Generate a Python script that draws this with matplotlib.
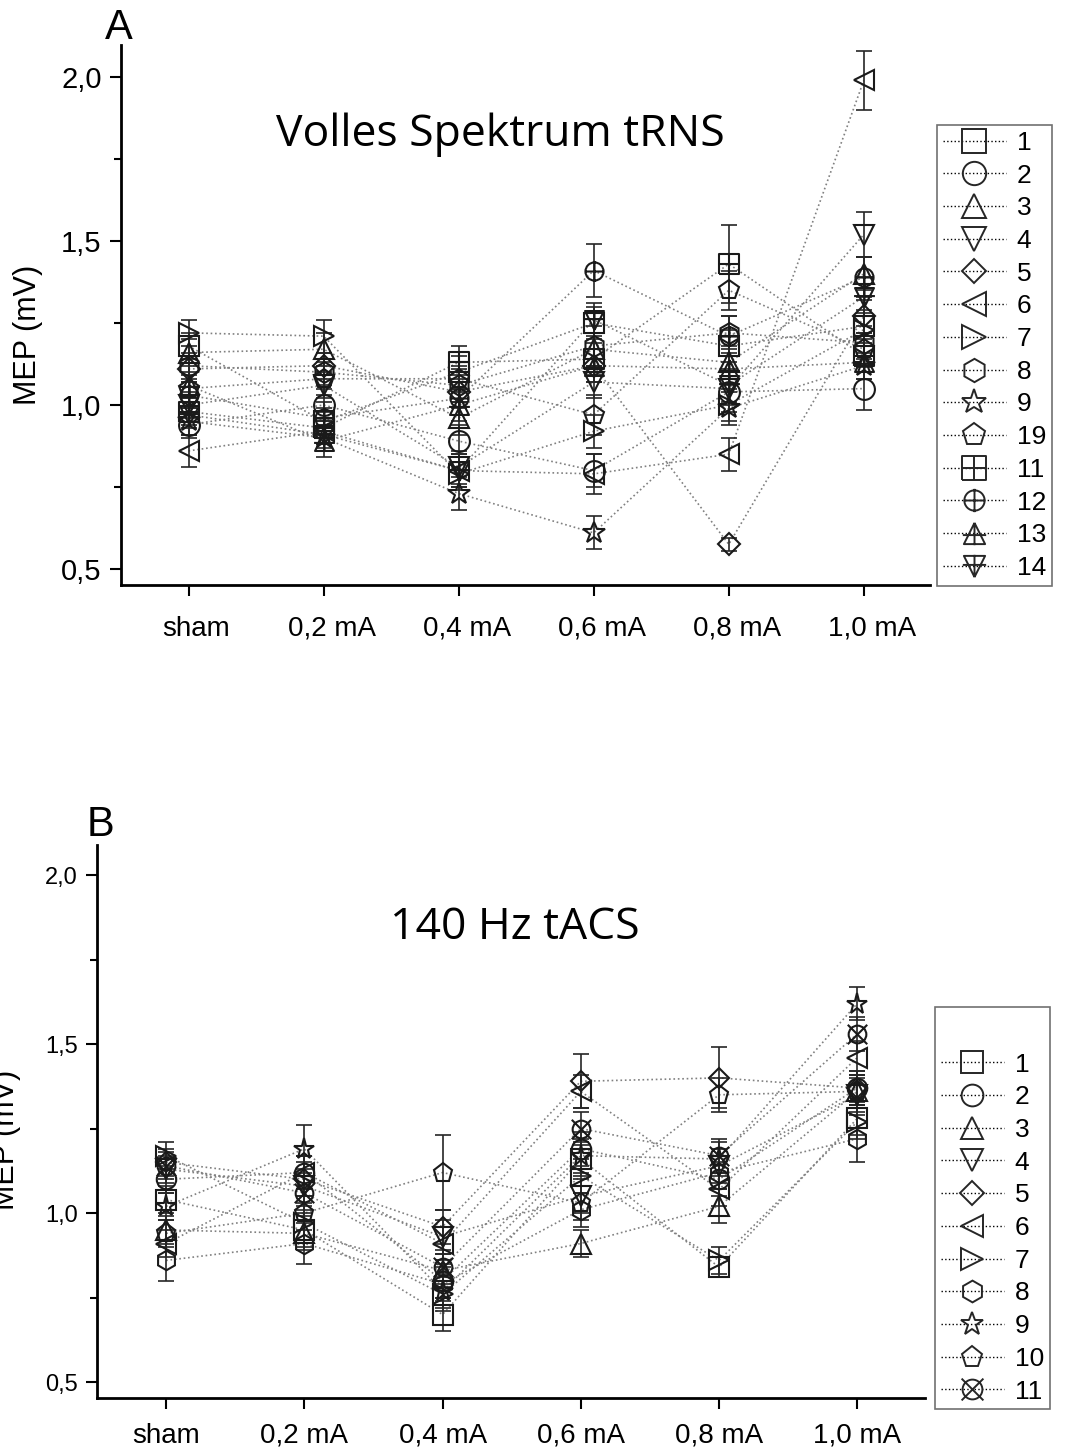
import numpy as np
import matplotlib
matplotlib.use('Agg')
import matplotlib.pyplot as plt
from matplotlib.path import Path
from matplotlib.lines import Line2D
from matplotlib.transforms import ScaledTranslation

plt.rcParams['font.family'] = ['Liberation Sans', 'DejaVu Sans']

conditions = ['sham', '0,2 mA', '0,4 mA', '0,6 mA', '0,8 mA', '1,0 mA']

# Panel A - Volles Spektrum tRNS (sham, 0.2, 0.4, 0.6, 0.8, 1.0 mA)
labels_a = ['1', '2', '3', '4', '5', '6', '7', '8', '9', '19', '11', '12', '13', '14']
mep_a = [
    [1.18, 0.95, 1.10, 1.25, 1.18, 1.24],
    [0.94, 1.00, 0.89, 0.80, 1.04, 1.05],
    [1.16, 1.17, 0.96, 1.17, 1.13, 1.40],
    [1.00, 1.06, 0.81, 1.07, 1.05, 1.52],
    [1.11, 1.12, 1.04, 1.12, 0.575, 1.27],
    [0.86, 0.92, 0.80, 0.79, 0.85, 1.99],
    [1.22, 1.21, 0.79, 0.92, 1.00, 1.23],
    [1.12, 1.10, 1.06, 1.18, 1.22, 1.19],
    [0.95, 0.90, 0.73, 0.61, 0.99, 1.12],
    [1.05, 1.08, 1.08, 0.97, 1.35, 1.17],
    [0.98, 0.93, 1.13, 1.14, 1.43, 1.15],
    [1.03, 0.96, 1.02, 1.41, 1.21, 1.39],
    [1.06, 0.89, 1.00, 1.12, 1.11, 1.13],
    [0.97, 0.91, 0.80, 1.26, 1.06, 1.33],
]
sem_a = [
    [0.04, 0.04, 0.05, 0.05, 0.05, 0.05],
    [0.04, 0.05, 0.05, 0.05, 0.06, 0.065],
    [0.04, 0.05, 0.05, 0.05, 0.05, 0.05],
    [0.04, 0.04, 0.05, 0.05, 0.05, 0.07],
    [0.04, 0.04, 0.05, 0.05, 0.02, 0.05],
    [0.05, 0.04, 0.05, 0.06, 0.05, 0.09],
    [0.04, 0.05, 0.05, 0.05, 0.05, 0.05],
    [0.04, 0.04, 0.05, 0.06, 0.05, 0.05],
    [0.04, 0.04, 0.05, 0.05, 0.05, 0.04],
    [0.04, 0.05, 0.04, 0.06, 0.06, 0.05],
    [0.04, 0.05, 0.05, 0.05, 0.12, 0.05],
    [0.04, 0.05, 0.05, 0.08, 0.06, 0.06],
    [0.04, 0.05, 0.05, 0.05, 0.05, 0.05],
    [0.04, 0.04, 0.05, 0.05, 0.05, 0.06],
]

# Panel B - 140 Hz tACS
labels_b = ['1', '2', '3', '4', '5', '6', '7', '8', '9', '10', '11']
mep_b = [
    [1.04, 0.95, 0.70, 1.16, 0.84, 1.28],
    [1.10, 1.12, 0.80, 1.19, 1.10, 1.37],
    [0.95, 0.94, 0.83, 0.91, 1.02, 1.36],
    [1.13, 1.08, 0.93, 1.05, 1.14, 1.35],
    [1.15, 1.10, 0.96, 1.39, 1.40, 1.37],
    [0.91, 1.12, 0.91, 1.36, 1.07, 1.46],
    [1.17, 0.97, 0.76, 1.11, 0.86, 1.27],
    [0.86, 0.91, 0.79, 1.01, 1.12, 1.22],
    [1.02, 1.19, 0.77, 1.17, 1.16, 1.62],
    [0.94, 1.00, 1.12, 1.03, 1.35, 1.36],
    [1.14, 1.06, 0.84, 1.25, 1.17, 1.53],
]
sem_b = [
    [0.04, 0.05, 0.05, 0.05, 0.03, 0.05],
    [0.04, 0.05, 0.05, 0.05, 0.05, 0.05],
    [0.04, 0.05, 0.05, 0.04, 0.05, 0.05],
    [0.04, 0.05, 0.05, 0.05, 0.05, 0.05],
    [0.04, 0.05, 0.05, 0.08, 0.09, 0.05],
    [0.04, 0.05, 0.05, 0.05, 0.05, 0.05],
    [0.04, 0.05, 0.05, 0.05, 0.04, 0.05],
    [0.06, 0.06, 0.05, 0.05, 0.05, 0.07],
    [0.04, 0.07, 0.05, 0.05, 0.05, 0.05],
    [0.04, 0.05, 0.11, 0.05, 0.05, 0.05],
    [0.04, 0.05, 0.05, 0.05, 0.05, 0.05],
]

# custom Origin-like markers
def lines(*segs):
    return [Path(s) for s in segs]

tri_up = Path([(0, 1), (-1, -1), (1, -1), (0, 1)])
tri_dn = Path([(0, -1), (-1, 1), (1, 1), (0, -1)])
sq = Path([(-1, -1), (1, -1), (1, 1), (-1, 1), (-1, -1)])
sq_plus = Path.make_compound_path(sq, *lines([(0, -1), (0, 1)], [(-1, 0), (1, 0)]))
circ_plus = Path.make_compound_path(Path.unit_circle(), *lines([(0, -1.15), (0, 1.15)], [(-1, 0), (1, 0)]))
tri_up_plus = Path.make_compound_path(tri_up, *lines([(0, 1), (0, -1.1)], [(-1.1, -0.15), (1.1, -0.15)]))
tri_dn_plus = Path.make_compound_path(tri_dn, *lines([(0, -1), (0, 1.1)], [(-1.1, 0.15), (1.1, 0.15)]))
circ_x = Path.make_compound_path(Path.unit_circle(), *lines([(-1.1, -1.1), (1.1, 1.1)], [(-1.1, 1.1), (1.1, -1.1)]))

markers_a = ['s', 'o', '^', 'v', 'D', '<', '>', 'h', '*', 'p', sq_plus, circ_plus, tri_up_plus, tri_dn_plus]
markers_b = ['s', 'o', '^', 'v', 'D', '<', '>', 'h', '*', 'p', circ_x]


def msize(m, base):
    if isinstance(m, str) and m == 'D':
        return base * 0.75
    if isinstance(m, str) and m == '*':
        return base * 1.1
    return base


fig = plt.figure(figsize=(10.65, 14.48), dpi=100)
W, H = 1065.0, 1448.0

def px_axes(l, t, r, b):
    return fig.add_axes([l / W, 1 - b / H, (r - l) / W, (b - t) / H])

ax1 = px_axes(121, 45, 930, 585)
ax2 = px_axes(97, 845, 925, 1398)

x = np.arange(len(conditions))


def draw(ax, mep, sem, markers, labels, ms):
    handles = []
    for vals, err, m, lab in zip(mep, sem, markers, labels):
        ax.plot(x, vals, ls=':', lw=1.2, color='0.5', zorder=1)
        ax.errorbar(x, vals, yerr=err, fmt='none', ecolor='0.15', elinewidth=1.2,
                    capsize=6, capthick=1.2, zorder=2)
        ax.plot(x, vals, ls='none', marker=m, ms=msize(m, ms), mfc='none',
                mec='0.1', mew=1.5, zorder=3)
        handles.append(Line2D([], [], ls=':', lw=1.0, color='k', marker=m,
                              ms=msize(m, ms) * 1.12, mfc='none', mec='0.15', mew=1.4, label=lab))
    ax.set_xlim(-0.5, 5.49)
    ax.set_xticks(x)
    ax.set_xticklabels(conditions)
    ax.set_yticks([0.5, 1.0, 1.5, 2.0])
    ax.set_yticks([0.75, 1.25, 1.75], minor=True)
    ax.set_yticklabels(['0,5', '1,0', '1,5', '2,0'])
    for s in ['top', 'right']:
        ax.spines[s].set_visible(False)
    for s in ['left', 'bottom']:
        ax.spines[s].set_linewidth(2.0)
    ax.tick_params(axis='both', which='major', direction='out', length=8, width=1.5)
    ax.tick_params(axis='y', which='minor', direction='out', length=5, width=1.5)
    ax.tick_params(axis='x', which='minor', bottom=False)
    return handles


h1 = draw(ax1, mep_a, sem_a, markers_a, labels_a, 15)
ax1.set_ylim(0.451, 2.098)
ax1.tick_params(axis='x', labelsize=20, pad=14)
ax1.tick_params(axis='y', labelsize=21, pad=6)
ax1.set_ylabel('MEP (mV)', fontsize=22)
ax1.yaxis.set_label_coords(-0.097, 0.463)
off = ScaledTranslation(8 / 100, 0, fig.dpi_scale_trans)
for lbl in ax1.get_xticklabels():
    lbl.set_transform(lbl.get_transform() + off)

h2 = draw(ax2, mep_b, sem_b, markers_b, labels_b, 14)
ax2.set_ylim(0.453, 2.089)
ax2.tick_params(axis='x', labelsize=20, pad=10)
ax2.tick_params(axis='y', labelsize=17, pad=6)
ax2.set_ylabel('MEP (mV)', fontsize=22)
ax2.yaxis.set_label_coords(-0.092, 0.467)

leg1 = ax1.legend(handles=h1, loc='upper left', bbox_to_anchor=(937 / W, 1 - 125 / H),
                  bbox_transform=fig.transFigure, fontsize=19, frameon=True, fancybox=False,
                  edgecolor='0.3', borderaxespad=0, borderpad=0.22, labelspacing=0.33,
                  handlelength=2.4, handletextpad=0.4, numpoints=1)
leg1.get_frame().set_linewidth(1.2)

leg2 = ax2.legend(handles=h2, loc='upper left', bbox_to_anchor=(935 / W, 1 - 1007 / H),
                  bbox_transform=fig.transFigure, fontsize=19, frameon=True, fancybox=False,
                  edgecolor='0.3', borderaxespad=0, borderpad=0.22, labelspacing=0.33,
                  handlelength=2.4, handletextpad=0.4, numpoints=1,
                  title=' ', title_fontsize=24)
leg2.get_frame().set_linewidth(1.2)

fig.text(500 / W, 1 - 135 / H, 'Volles Spektrum tRNS', ha='center', va='center',
         fontsize=32, family=['Open Sans', 'DejaVu Sans'])
fig.text(515 / W, 1 - 928 / H, '140 Hz tACS', ha='center', va='center',
         fontsize=32, family=['Open Sans', 'DejaVu Sans'])
fig.text(119 / W, 1 - 28 / H, 'A', ha='center', va='center', fontsize=30)
fig.text(101 / W, 1 - 825 / H, 'B', ha='center', va='center', fontsize=30)

fig.savefig('out.png', dpi=100)
